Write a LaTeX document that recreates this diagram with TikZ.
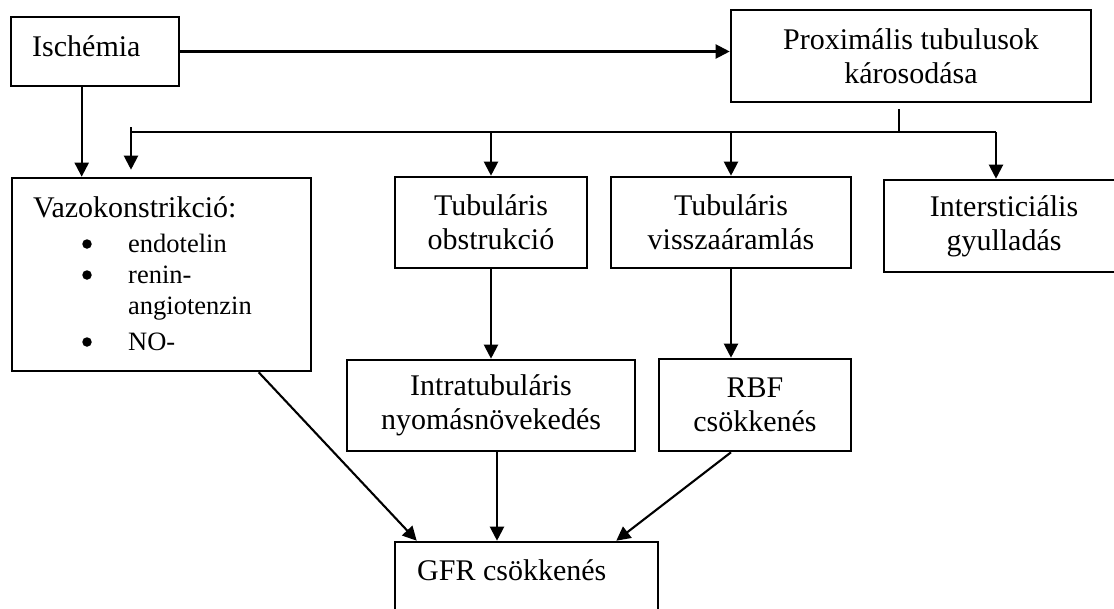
\documentclass[tikz,border=0pt]{standalone}
\usepackage{fontspec}
\setmainfont{Liberation Serif}
\usepackage{tikz}
\usetikzlibrary{arrows.meta,positioning}
\tikzstyle{box} = [draw, line width=2.6pt, align=center, inner sep=0pt, font=\fontsize{30}{34}\selectfont]
\tikzstyle{txt} = [inner sep=0pt, font=\fontsize{30}{34}\selectfont]
\tikzstyle{item} = [inner sep=0pt, font=\fontsize{26.5}{31}\selectfont]
\tikzstyle{dot} = [circle, fill, inner sep=0pt, minimum size=9.5pt]
\tikzstyle{link} = [line width=2.1pt]
\tikzstyle{arrow} = [line width=2.1pt, -{Triangle[length=14pt,width=14pt]}]

\begin{document}
\begin{tikzpicture}[x=1pt, y=-1pt]
\clip (0,0) rectangle (1114,608);
% Boxes
\node[box, minimum width=168pt, minimum height=69pt] (ischemia) at (95,51.5) {};
\node[txt, anchor=base west] (ischemiatext) at (32,56) {Ischémia};
\node[box, minimum width=360pt, minimum height=92pt] (prox) at (911,56) {Proximális tubulusok\\károsodása};
\node[box, minimum width=299pt, minimum height=193pt] (vazo) at (161.5,274.5) {};
\node[box, minimum width=192pt, minimum height=91pt] (obstr) at (491,222.5) {Tubuláris\\obstrukció};
\node[box, minimum width=240pt, minimum height=91pt] (vissza) at (731,222.5) {Tubuláris\\visszaáramlás};
\node[box, minimum width=240pt, minimum height=92pt] (inter) at (1004,226) {Intersticiális\\gyulladás};
\node[box, minimum width=288pt, minimum height=91pt] (intra) at (491,405.5) {Intratubuláris\\nyomásnövekedés};
\node[box, minimum width=192pt, minimum height=92pt] (rbf) at (755,405) {RBF\\csökkenés};
\node[box, minimum width=263pt, minimum height=100pt] (gfr) at (526.5,592) {};
\node[txt, anchor=base west] (gfrtext) at (417,580) {GFR csökkenés};

% Vazokonstrikcio list
\node[txt, anchor=base west] (vazotitle) at (33,217) {Vazokonstrikció:};
\node[dot] (bulleta) at (87,244) {};
\node[item, anchor=base west] (itema) at (128,252) {endotelin};
\node[dot] (bulletb) at (87,275) {};
\node[item, anchor=base west] (itemb) at (128,283) {renin-};
\node[item, anchor=base west] (itemc) at (128,314) {angiotenzin};
\node[dot] (bulletd) at (87,342) {};
\node[item, anchor=base west] (itemd) at (128,350) {NO-};

% Connectors
\coordinate (split) at (899,132);
\coordinate (busw) at (131,132);
\coordinate (buse) at (996,132);
\draw[arrow] (ischemia.east) -- (ischemia.east -| prox.west);
\draw[arrow] ([xshift=72pt]ischemia.south west) -- ([xshift=72pt]ischemia.south west |- vazo.north);
\draw[link] ([yshift=-6pt]split |- prox.south) -- (split);
\draw[link] (busw) -- (buse);
\draw[arrow] ([yshift=5pt]busw) -- ([yshift=7pt]busw |- vazo.north);
\draw[arrow] (obstr.north |- busw) -- (obstr.north);
\draw[arrow] (vissza.north |- busw) -- (vissza.north);
\draw[arrow] (buse) -- (buse |- inter.north);
\draw[arrow] (obstr.south) -- (intra.north);
\draw[arrow] (vissza.south) -- (vissza.south |- rbf.north);
\draw[arrow] ([xshift=248pt]vazo.south west) -- ([xshift=23pt]gfr.north west);
\draw[arrow] ([xshift=6pt]intra.south) -- ([xshift=6pt]intra.south |- gfr.north);
\draw[arrow] ([xshift=-24pt]rbf.south) -- ([xshift=-43pt]gfr.north east);
\end{tikzpicture}
\end{document}
